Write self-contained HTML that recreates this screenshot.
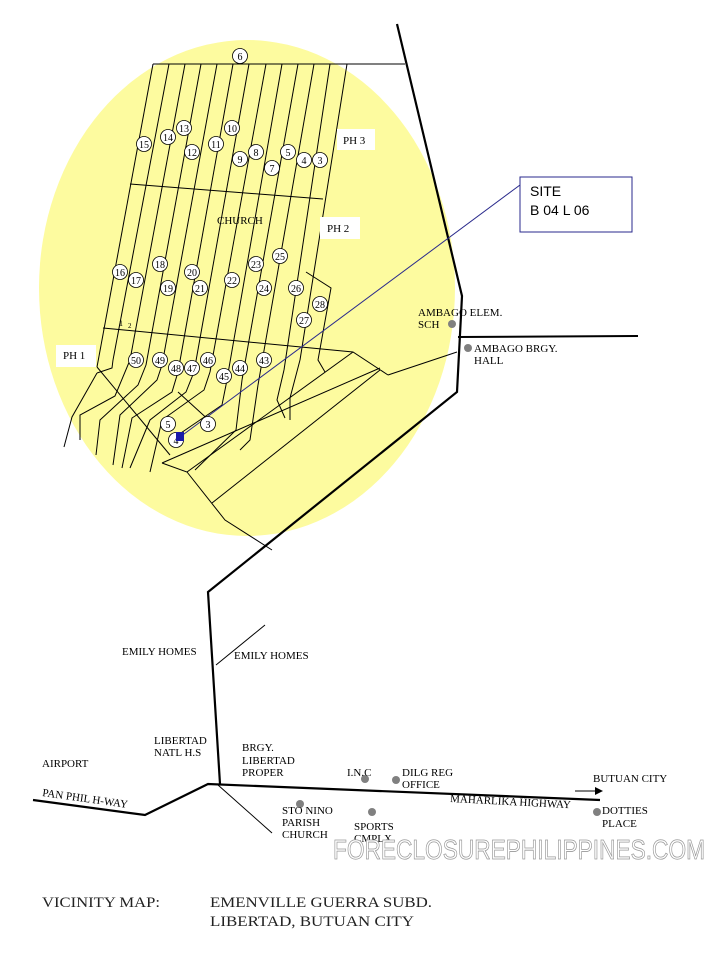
<!DOCTYPE html>
<html><head><meta charset="utf-8"><style>
html,body{margin:0;padding:0;background:#fff;}
svg{display:block;font-family:"Liberation Serif",serif;}
</style></head><body>
<svg width="720" height="960" viewBox="0 0 720 960" xmlns="http://www.w3.org/2000/svg">
<rect width="720" height="960" fill="#fff"/>
<ellipse cx="247" cy="288" rx="208" ry="248" fill="#fdfb9f"/>
<polyline points="397,24 462,296 457,392 208,592 220,784" fill="none" stroke="#000" stroke-width="2.2"/>
<line x1="458" y1="337" x2="638" y2="336" stroke="#000" stroke-width="2"/>
<line x1="388" y1="375" x2="457" y2="352" stroke="#000" stroke-width="1"/>
<g stroke="#000" stroke-width="1" fill="none">
<line x1="153" y1="64" x2="405" y2="64"/>
<line x1="130" y1="184" x2="323" y2="199"/>
<polyline points="103,328 353,352 388,375"/>
<line x1="153" y1="64" x2="97" y2="367"/>
<line x1="169" y1="64" x2="113" y2="360"/>
<line x1="185" y1="64" x2="130" y2="360"/>
<line x1="201" y1="64" x2="146" y2="365"/>
<line x1="217" y1="64" x2="162" y2="365"/>
<line x1="233" y1="64" x2="178" y2="372"/>
<line x1="249" y1="64" x2="194" y2="372"/>
<line x1="266" y1="64" x2="210" y2="372"/>
<line x1="282" y1="64" x2="226" y2="385"/>
<line x1="298" y1="64" x2="242" y2="380"/>
<line x1="314" y1="64" x2="258" y2="385"/>
<line x1="330" y1="64" x2="284" y2="370"/>
<line x1="347" y1="64" x2="300" y2="360"/>
<polyline points="306,272 331,288 318,360 325,372"/>
<polyline points="113,360 112,368 97,373"/>
<polyline points="97,373 72,417 64,447"/>
<polyline points="130,360 115,396 80,415 80,440"/>
<polyline points="146,365 138,385 100,420 96,455"/>
<polyline points="162,365 157,380 120,415 113,465"/>
<polyline points="178,372 172,392 132,418 122,468"/>
<polyline points="194,372 186,392 150,420 130,468"/>
<polyline points="210,372 204,390 162,420 150,472"/>
<polyline points="226,385 222,405 175,437"/>
<line x1="97" y1="367" x2="170" y2="455"/>
<line x1="178" y1="392" x2="212" y2="423"/>
<line x1="380" y1="368" x2="162" y2="463"/>
<line x1="353" y1="352" x2="187" y2="472"/>
<line x1="380" y1="370" x2="212" y2="503"/>
<polyline points="162,463 187,472 225,520 272,550"/>
<polyline points="242,380 236,430 195,470"/>
<polyline points="258,385 250,440 240,450"/>
<polyline points="284,370 277,400 285,418"/>
<polyline points="300,360 290,398 290,420"/>
<line x1="218" y1="785" x2="272" y2="833"/>
<line x1="216" y1="665" x2="265" y2="625"/>
</g>
<line x1="180" y1="437" x2="520" y2="185" stroke="#2a2a8c" stroke-width="1"/>
<rect x="520" y="177" width="112" height="55" fill="#fff" stroke="#2a2a8c" stroke-width="1"/>
<text x="530" y="196" font-family="Liberation Sans,sans-serif" font-size="14">SITE</text>
<text x="530" y="215" font-family="Liberation Sans,sans-serif" font-size="14">B 04 L 06</text>
<rect x="337" y="129" width="38" height="21" fill="#fff"/><text x="343" y="144" font-size="11">PH 3</text>
<rect x="320" y="217" width="40" height="22" fill="#fff"/><text x="327" y="232" font-size="11">PH 2</text>
<rect x="56" y="345" width="40" height="22" fill="#fff"/><text x="63" y="359" font-size="11">PH 1</text>
<text x="217" y="224" font-size="11">CHURCH</text>
<text x="119" y="326" font-size="8">1</text><text x="128" y="328" font-size="7">2</text>
<g font-size="10" text-anchor="middle" stroke-width="0.8">
<g fill="#fff" stroke="#000">
<circle cx="240" cy="56" r="7.5"/><circle cx="144" cy="144" r="7.5"/><circle cx="168" cy="137" r="7.5"/><circle cx="184" cy="128" r="7.5"/><circle cx="192" cy="152" r="7.5"/><circle cx="216" cy="144" r="7.5"/><circle cx="232" cy="128" r="7.5"/><circle cx="240" cy="159" r="7.5"/><circle cx="256" cy="152" r="7.5"/><circle cx="272" cy="168" r="7.5"/><circle cx="288" cy="152" r="7.5"/><circle cx="304" cy="160" r="7.5"/><circle cx="320" cy="160" r="7.5"/>
<circle cx="120" cy="272" r="7.5"/><circle cx="136" cy="280" r="7.5"/><circle cx="160" cy="264" r="7.5"/><circle cx="168" cy="288" r="7.5"/><circle cx="192" cy="272" r="7.5"/><circle cx="200" cy="288" r="7.5"/><circle cx="232" cy="280" r="7.5"/><circle cx="256" cy="264" r="7.5"/><circle cx="264" cy="288" r="7.5"/><circle cx="280" cy="256" r="7.5"/><circle cx="296" cy="288" r="7.5"/><circle cx="304" cy="320" r="7.5"/><circle cx="320" cy="304" r="7.5"/>
<circle cx="136" cy="360" r="7.5"/><circle cx="160" cy="360" r="7.5"/><circle cx="176" cy="368" r="7.5"/><circle cx="192" cy="368" r="7.5"/><circle cx="208" cy="360" r="7.5"/><circle cx="224" cy="376" r="7.5"/><circle cx="240" cy="368" r="7.5"/><circle cx="264" cy="360" r="7.5"/>
<circle cx="168" cy="424" r="7.5"/><circle cx="208" cy="424" r="7.5"/><circle cx="176" cy="440" r="7.5"/>
</g>
<g fill="#000">
<text x="240" y="60">6</text><text x="144" y="148">15</text><text x="168" y="141">14</text><text x="184" y="132">13</text><text x="192" y="156">12</text><text x="216" y="148">11</text><text x="232" y="132">10</text><text x="240" y="163">9</text><text x="256" y="156">8</text><text x="272" y="172">7</text><text x="288" y="156">5</text><text x="304" y="164">4</text><text x="320" y="164">3</text>
<text x="120" y="276">16</text><text x="136" y="284">17</text><text x="160" y="268">18</text><text x="168" y="292">19</text><text x="192" y="276">20</text><text x="200" y="292">21</text><text x="232" y="284">22</text><text x="256" y="268">23</text><text x="264" y="292">24</text><text x="280" y="260">25</text><text x="296" y="292">26</text><text x="304" y="324">27</text><text x="320" y="308">28</text>
<text x="136" y="364">50</text><text x="160" y="364">49</text><text x="176" y="372">48</text><text x="192" y="372">47</text><text x="208" y="364">46</text><text x="224" y="380">45</text><text x="240" y="372">44</text><text x="264" y="364">43</text>
<text x="168" y="428">5</text><text x="208" y="428">3</text><text x="176" y="444">4</text>
</g></g>
<rect x="176" y="432" width="8" height="9" fill="#1a1aa8"/>
<circle cx="452" cy="324" r="4" fill="#808080"/><circle cx="468" cy="348" r="4" fill="#808080"/>
<text x="418" y="316" font-size="11">AMBAGO ELEM.</text><text x="418" y="328" font-size="11">SCH</text>
<text x="474" y="352" font-size="11">AMBAGO BRGY.</text><text x="474" y="364" font-size="11">HALL</text>
<polyline points="33,800 145,815 208,784 600,800" fill="none" stroke="#000" stroke-width="2.2"/>
<line x1="575" y1="791" x2="600" y2="791" stroke="#000" stroke-width="1"/>
<polygon points="603,791 595,787 595,795" fill="#000"/>
<g fill="#808080"><circle cx="365" cy="779" r="4"/><circle cx="396" cy="780" r="4"/><circle cx="300" cy="804" r="4"/><circle cx="372" cy="812" r="4"/><circle cx="597" cy="812" r="4"/></g>
<g font-size="11">
<text x="122" y="655">EMILY HOMES</text><text x="234" y="659">EMILY HOMES</text>
<text x="154" y="744">LIBERTAD</text><text x="154" y="756">NATL H.S</text>
<text x="42" y="767">AIRPORT</text>
<text x="242" y="751">BRGY.</text><text x="242" y="764">LIBERTAD</text><text x="242" y="776">PROPER</text>
<text x="347" y="776">I.N.C</text>
<text x="402" y="776">DILG REG</text><text x="402" y="788">OFFICE</text>
<text x="593" y="782">BUTUAN CITY</text>
<text x="450" y="802" transform="rotate(3 450 802)">MAHARLIKA HIGHWAY</text>
<text x="42" y="796" transform="rotate(8 42 796)">PAN PHIL H-WAY</text>
<text x="282" y="814">STO NINO</text><text x="282" y="826">PARISH</text><text x="282" y="838">CHURCH</text>
<text x="354" y="830">SPORTS</text><text x="354" y="842">CMPLX</text>
<text x="602" y="814">DOTTIES</text><text x="602" y="827">PLACE</text>
</g>
<text x="333" y="859" font-family="Liberation Sans,sans-serif" font-size="28" fill="#fff" stroke="#999" stroke-width="0.8" textLength="372" lengthAdjust="spacingAndGlyphs">FORECLOSUREPHILIPPINES.COM</text>
<g font-size="15" fill="#222">
<text x="42" y="907" textLength="118" lengthAdjust="spacingAndGlyphs">VICINITY MAP:</text>
<text x="210" y="907" textLength="222" lengthAdjust="spacingAndGlyphs">EMENVILLE GUERRA SUBD.</text>
<text x="210" y="926" textLength="204" lengthAdjust="spacingAndGlyphs">LIBERTAD, BUTUAN CITY</text>
</g>
</svg>
</body></html>
